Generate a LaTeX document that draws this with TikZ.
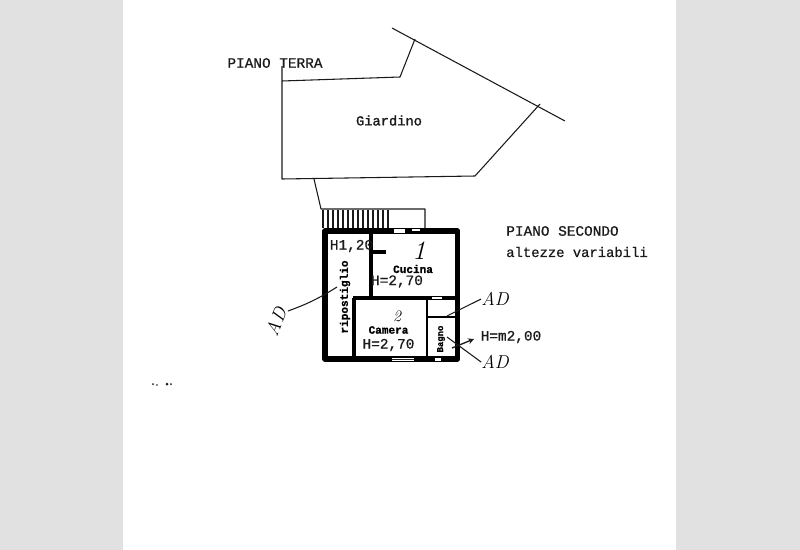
\documentclass[tikz,border=0pt]{standalone}
\usepackage{fontspec}
\newfontfamily\typefont[FakeBold=0.7]{Liberation Mono}
\newfontfamily\gardenfont[FakeBold=1.4]{Liberation Mono}
\newfontfamily\roomfont[FakeBold=1]{Liberation Mono Bold}
\usetikzlibrary{arrows,calc}
\definecolor{sidegray}{HTML}{E1E1E1}
\definecolor{ink}{HTML}{1A1A1A}
\begin{document}
\begin{tikzpicture}[x=0.75pt,y=-0.75pt,line join=round,
line/.style={draw=ink,line width=0.8pt},
thin line/.style={draw=ink,line width=0.55pt},
wall/.style={draw=black,line width=4.2pt},
inner wall/.style={draw=black,line width=2.3pt},
window/.style={fill=white,draw=none},
type/.style={inner sep=0pt,text=ink,font=\typefont\fontsize{10.8}{12}\selectfont},
room/.style={inner sep=0pt,text=black,font=\roomfont\fontsize{8.3}{10}\selectfont},
hand/.style={inner sep=0pt,text=black,font=\itshape\fontsize{14}{15}\selectfont}]
\useasboundingbox (0,0) rectangle (800,550);
\fill[sidegray] (0,0) rectangle (123,550);
\fill[sidegray] (676,0) rectangle (800,550);
\coordinate (g1) at (282,66);
\coordinate (g2) at (282,179);
\coordinate (g3) at (475,176);
\coordinate (g4) at (540,104);
\coordinate (g5) at (282,81);
\coordinate (g6) at (400,77);
\coordinate (g7) at (415,39);
\coordinate (f1) at (392,28);
\coordinate (f2) at (565,121);
\coordinate (b1) at (314,179);
\coordinate (b2) at (321,209);
\coordinate (b3) at (425,209);
\coordinate (b4) at (425,228);
\draw[line] (g1) -- (g2) -- (g3) -- (g4);
\draw[line] (g5) -- (g6) -- (g7);
\draw[line] (f1) -- (f2);
\draw[line] (b1) -- (b2) -- (b3) -- (b4);
\foreach \x in {323,328,...,388}
\draw[line,line width=1pt] (\x,210) -- (\x,228);
\draw[wall] (325,231) rectangle (457.5,359);
\draw[inner wall] (371,233) -- (371,298);
\draw[inner wall] (353,298) -- (456,298);
\draw[inner wall] (354,298) -- (354,357);
\draw[inner wall,line width=1.8pt] (427,298) -- (427,357);
\draw[inner wall,line width=1.8pt] (427,317) -- (456,317);
\draw[inner wall] (371,252) -- (386,252);
\fill[window] (394,229) rectangle (405,233);
\fill[window] (412,229) rectangle (420,231);
\fill[window] (392,358) rectangle (414,361);
\draw[thin line] (392,359.5) -- (414,359.5);
\fill[window] (435,358) rectangle (441,361);
\fill[window] (432,297) rectangle (442,299);
\node[type] (terra) at (275,63) {PIANO TERRA};
\node[type,font=\gardenfont\fontsize{10.3}{12}\selectfont] (giardino) at (389,120.5) {Giardino};
\node[type] (secondo) at (562.5,231) {PIANO SECONDO};
\node[type,font=\typefont\fontsize{10.4}{12}\selectfont] (altezze) at (577,252) {altezze variabili};
\node[type] (h120) at (351.5,246) {H1,20};
\node[room] (cucina) at (413,269) {Cucina};
\node[type] (hcucina) at (397,281.5) {H=2,70};
\node[room] (camera) at (388.5,330) {Camera};
\node[type] (hcamera) at (388.5,345) {H=2,70};
\node[room,rotate=90] (ripostiglio) at (345,297) {ripostiglio};
\node[room,rotate=90,font=\roomfont\fontsize{6.7}{8}\selectfont] (bagno) at (441,339) {Bagno};
\node[type] (hm) at (511,337) {H=m2,00};
\node[hand,font=\itshape\fontsize{20}{21}\selectfont] (uno) at (419,251) {1};
\node[hand,font=\itshape\fontsize{12}{13}\selectfont] (due) at (397,316) {2};
\node[hand,rotate=68] (adleft) at (276,322) {A\kern1pt D};
\node[hand] (adtop) at (495,299) {AD};
\node[hand] (adbot) at (495,362) {AD};
\coordinate (l1) at (337,287);
\coordinate (l2) at (447,316);
\coordinate (l3) at (447,337);
\coordinate (a1) at (452,348);
\coordinate (a2) at (474,339);
\draw[line] (adleft.south east) to[bend right=6] (l1);
\draw[line] (adtop.west) -- (l2);
\draw[line] (adbot.west) -- (l3);
\draw[line,-stealth,line width=1pt] (a1) -- (a2);
\fill[ink] (153,384) circle (1) (157,385) circle (0.8) (167,384) circle (1.5) (171,384) circle (1);
\end{tikzpicture}
\end{document}
